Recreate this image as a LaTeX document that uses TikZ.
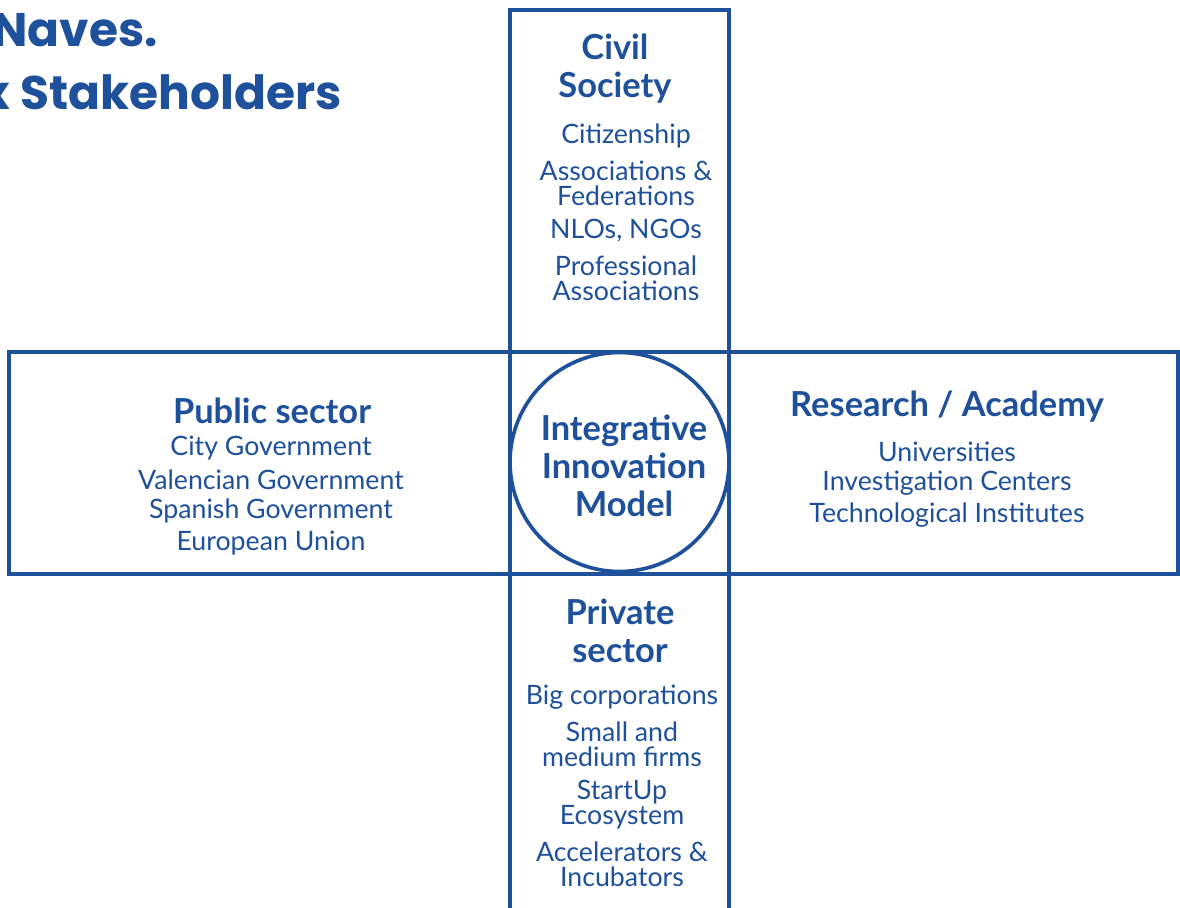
\documentclass[tikz,border=0pt]{standalone}
\usepackage{fontspec}
\setmainfont{Lato}
\newfontfamily\titlefont{Poppins}
\definecolor{helixblue}{RGB}{30,80,155}
\tikzset{
  frame/.style={draw=helixblue, line width=2.6pt},
  headtext/.style={text=helixblue, align=center, inner sep=0pt, font=\bfseries\fontsize{24.5}{27}\selectfont},
  itemtext/.style={text=helixblue, align=center, inner sep=0pt, font=\fontsize{19}{17.8}\selectfont},
  titletext/.style={text=helixblue, anchor=base east, inner sep=0pt, font=\titlefont\bfseries\fontsize{33.5}{36}\selectfont}
}
\begin{document}
\begin{tikzpicture}[x=0.025cm,y=-0.025cm]
  \useasboundingbox (0,0) rectangle (1180,908);
  \clip (0,0) rectangle (1180,908);
  % title
  \node[titletext] (title1) at (158,46) {Naves.};
  \node[titletext] (title2) at (342,109) {x Stakeholders};
  % cross
  \draw[frame] (510,10) rectangle (729,930);
  \draw[frame] (9,352) rectangle (1178,574);
  \node[frame, circle, fill=white, minimum size=219*0.025cm, inner sep=0pt] (hub) at (619.5,462) {};
  \node[headtext] (model) at (624,466) {Integrative\\Innovation\\Model};
  % civil society
  \node[headtext] (civil) at (615,69) {Civil\\Society};
  \foreach \y/\txt [count=\i] in {136/Citizenship, 183.5/{Associations \&\\Federations}, 231/{NLOs, NGOs}, 278.5/{Professional\\Associations}}
    \node[itemtext] (civil-\i) at (626,\y) {\txt};
  % public sector
  \node[headtext] (public) at (272,411) {Public sector};
  \foreach \y/\txt [count=\i] in {448/City Government, 480/Valencian Government, 511/Spanish Government, 543/European Union}
    \node[itemtext] (public-\i) at (271,\y) {\txt};
  % research
  \node[headtext] (research) at (947,407) {Research / Academy};
  \foreach \y/\txt [count=\i] in {452/Universities, 483/Investigation Centers, 515/Technological Institutes}
    \node[itemtext] (research-\i) at (947,\y) {\txt};
  % private sector
  \node[headtext] (private) at (620,631) {Private\\sector};
  \foreach \y/\txt [count=\i] in {697/Big corporations, 744.5/{Small and\\medium firms}, 804.5/{StartUp\\Ecosystem}, 864.5/{Accelerators \&\\Incubators}}
    \node[itemtext] (private-\i) at (622,\y) {\txt};
\end{tikzpicture}
\end{document}
